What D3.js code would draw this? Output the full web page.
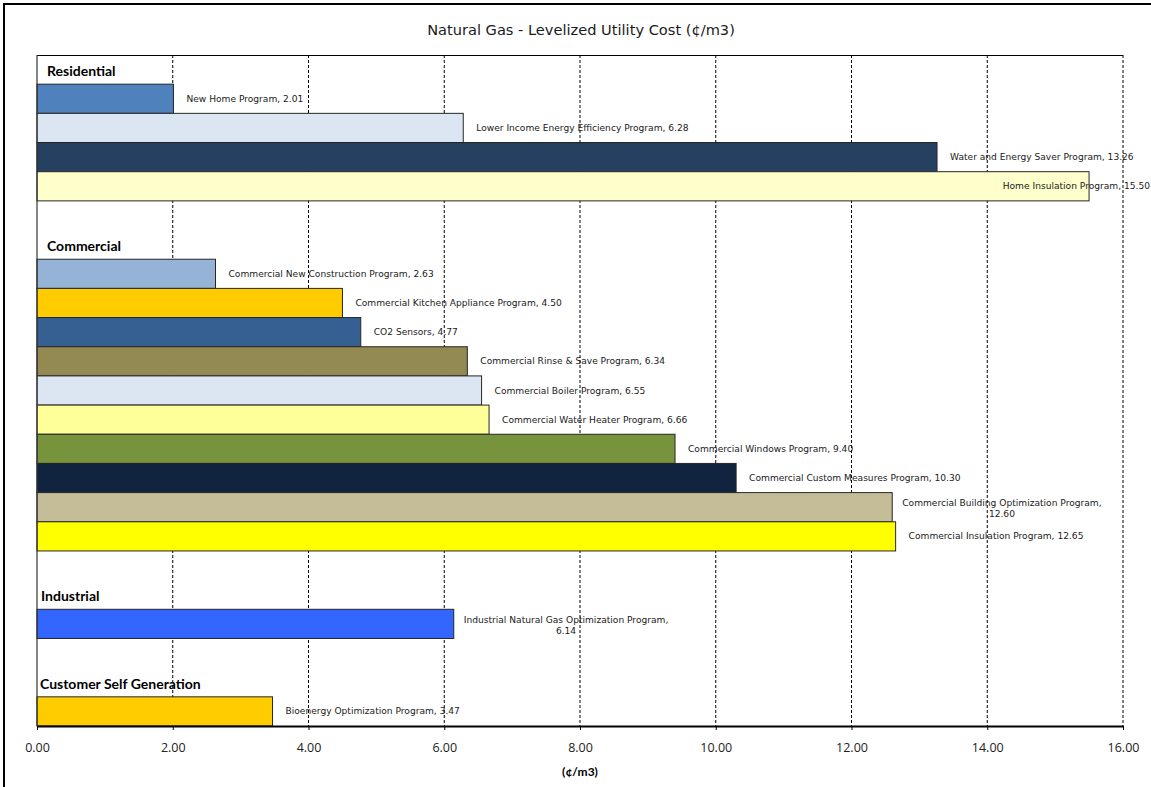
<!DOCTYPE html>
<html><head><meta charset="utf-8">
<script src="https://cdn.jsdelivr.net/npm/d3@7"></script>
<style>
body{margin:0;background:#fff;}
</style>
</head><body>
<svg id="c" width="1151" height="787"></svg>
<script>
const groups = ["Residential","Commercial","Industrial","Customer Self Generation"];
const programs = ["New Home Program","Lower Income Energy Efficiency Program","Water and Energy Saver Program","Home Insulation Program",
  "Commercial New Construction Program","Commercial Kitchen Appliance Program","CO2 Sensors","Commercial Rinse & Save Program",
  "Commercial Boiler Program","Commercial Water Heater Program","Commercial Windows Program","Commercial Custom Measures Program",
  "Commercial Building Optimization Program","Commercial Insulation Program",
  "Industrial Natural Gas Optimization Program","Bioenergy Optimization Program"];
const costs = [2.01,6.28,13.26,15.50,2.63,4.50,4.77,6.34,6.55,6.66,9.40,10.30,12.60,12.65,6.14,3.47];
const programGroup = [0,0,0,0,1,1,1,1,1,1,1,1,1,1,2,3];
const xTicks = [0,2,4,6,8,10,12,14,16];
const barColors = ["#4F81BD","#DCE6F2","#254061","#FFFFCC","#95B3D7","#FFCC00","#366092","#938953",
  "#DCE6F2","#FFFF99","#77933C","#10243F","#C4BD97","#FFFF00","#3366FF","#FFCC00"];
const chartTitle = "Natural Gas - Levelized Utility Cost (¢/m3)";
const axisTitle = "(¢/m3)";

const W = 1151, H = 787;
const M = {left:37, right:1123, top:55, bottom:726};
const headerDx = [10,10,4,3];
const LABEL_FONT = "'DejaVu Sans','Open Sans',sans-serif";
const BOLD_FONT = "Lato,'Open Sans',sans-serif";
const TICK_FONT = "'Open Sans',Lato,sans-serif";

const svg = d3.select("#c");
svg.append("rect").attr("width",W).attr("height",H).attr("fill","#fff");
svg.append("rect").attr("x",4).attr("y",4).attr("width",W+20).attr("height",H+20)
  .attr("fill","none").attr("stroke","#000").attr("stroke-width",2);

// slots
const slots = [];
groups.forEach((g,gi)=>{
  if(gi>0) slots.push({type:"blank", key:"blank"+gi});
  slots.push({type:"header", key:"h"+gi, gi:gi});
  programs.forEach((p,i)=>{ if(programGroup[i]===gi) slots.push({type:"bar", key:"p"+i, i:i}); });
});

const x = d3.scaleLinear().domain([0,16]).range([M.left,M.right]);
const y = d3.scaleBand().domain(slots.map(s=>s.key)).range([M.top,M.bottom]).padding(0);

// title
svg.append("text").attr("x",581).attr("y",29).attr("text-anchor","middle")
  .attr("dominant-baseline","central").style("font-family",LABEL_FONT).style("font-size","14.6px")
  .attr("fill","#1a1a1a").text(chartTitle);

// headers
const hdr = svg.append("g");
slots.filter(s=>s.type==="header").forEach(s=>{
  hdr.append("text").attr("x",M.left+headerDx[s.gi]).attr("y",y(s.key)+y.bandwidth()/2+1)
    .attr("dominant-baseline","central").style("font-size","14px").style("font-weight","bold")
    .style("font-family",BOLD_FONT)
    .attr("fill","#000").text(groups[s.gi]);
});

// gridlines
svg.append("g").selectAll("line").data(xTicks.filter(d=>d>0)).join("line")
  .attr("x1",d=>x(d)).attr("x2",d=>x(d)).attr("y1",M.top).attr("y2",M.bottom)
  .attr("stroke","#000").attr("stroke-width",1).attr("stroke-dasharray","3,2");

// bars
svg.append("g").selectAll("rect").data(slots.filter(s=>s.type==="bar")).join("rect")
  .attr("x",x(0)).attr("y",d=>y(d.key))
  .attr("width",d=>x(costs[d.i])-x(0)).attr("height",y.bandwidth())
  .attr("fill",d=>barColors[d.i]).attr("stroke","#262626").attr("stroke-width",1);

// data labels
const lblG = svg.append("g");
const fs = 9.1, maxW = 215, lineH = 11;
slots.filter(s=>s.type==="bar").forEach(s=>{
  const i = s.i;
  const full = programs[i] + ", " + costs[i].toFixed(2);
  const cy = y(s.key)+y.bandwidth()/2;
  const t = lblG.append("text").style("font-size",fs+"px").style("font-family",LABEL_FONT).attr("fill","#1a1a1a")
    .attr("dominant-baseline","central").text(full);
  const w = t.node().getComputedTextLength();
  if (w <= maxW) {
    let lx = x(costs[i]) + 13;
    if (lx + w > W - 1) lx = W - 1 - w;
    t.attr("x",lx).attr("y",cy);
  } else {
    const words = full.split(" ");
    const lines = []; let cur = "";
    t.text("");
    words.forEach(wd=>{
      const test = cur ? cur+" "+wd : wd;
      t.text(test);
      if (t.node().getComputedTextLength() > maxW && cur) { lines.push(cur); cur = wd; }
      else cur = test;
    });
    if (cur) lines.push(cur);
    let bw = 0;
    lines.forEach(l=>{ t.text(l); bw = Math.max(bw, t.node().getComputedTextLength()); });
    t.text("");
    const cx = x(costs[i]) + 10 + bw/2;
    t.attr("text-anchor","middle");
    lines.forEach((l,k)=>{
      t.append("tspan").attr("x",cx).attr("y",cy + 1.5 + (k-(lines.length-1)/2)*lineH)
        .attr("dominant-baseline","central").text(l);
    });
  }
});

// plot frame: top and left
svg.append("line").attr("x1",M.left).attr("x2",M.right).attr("y1",M.top+0.5).attr("y2",M.top+0.5)
  .attr("stroke","#000").attr("stroke-width",1.2);
svg.append("line").attr("x1",M.left).attr("x2",M.left).attr("y1",M.top).attr("y2",M.bottom)
  .attr("stroke","#333").attr("stroke-width",1.2);

// x axis
const ax = svg.append("g").attr("transform",`translate(0,${M.bottom})`)
  .call(d3.axisBottom(x).tickValues(xTicks).tickFormat(d3.format(".2f")).tickSize(4).tickSizeOuter(0).tickPadding(13));
ax.select(".domain").attr("stroke","#000").attr("stroke-width",2.2);
ax.selectAll(".tick line").attr("stroke","#000");
ax.selectAll(".tick text").style("font-size","12.5px").attr("fill","#222").style("font-family",TICK_FONT);

svg.append("text").attr("x",(M.left+M.right)/2).attr("y",771).attr("text-anchor","middle")
  .attr("dominant-baseline","central").style("font-size","12px").style("font-weight","bold")
  .style("font-family",BOLD_FONT).attr("fill","#000").text(axisTitle);
</script>
</body></html>
